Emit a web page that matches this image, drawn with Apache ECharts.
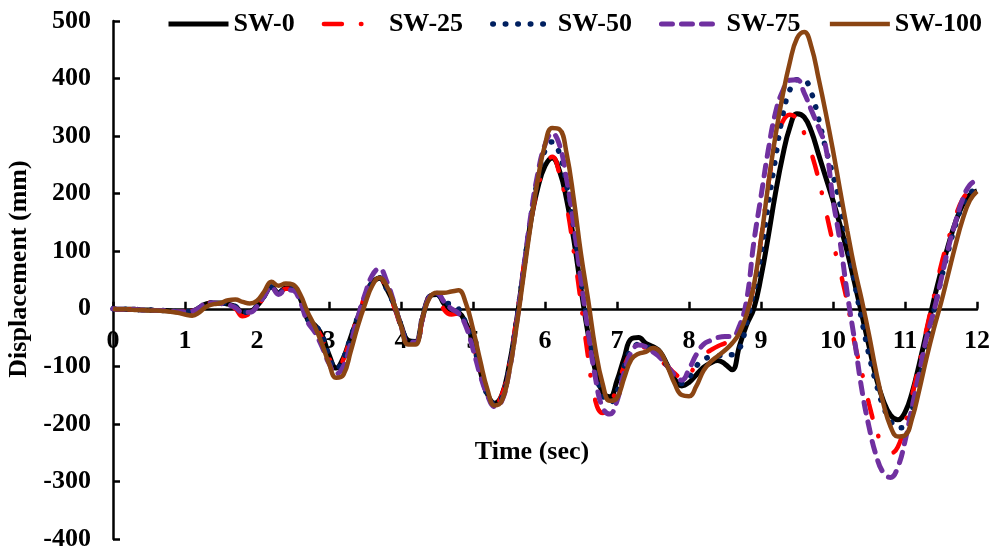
<!DOCTYPE html>
<html>
<head>
<meta charset="utf-8">
<script src="https://cdn.jsdelivr.net/npm/echarts@6/dist/echarts.min.js"></script>
<style>
  html, body { margin: 0; padding: 0; background: #fff; }
  #chart { width: 994px; height: 551px; }
</style>
</head>
<body>
<div id="chart"></div>
<script>
// time (sec), 0.1 s step
const time = [
  0.0, 0.1, 0.2, 0.3, 0.4, 0.5, 0.6, 0.7, 0.8, 0.9,
  1.0, 1.1, 1.2, 1.3, 1.4, 1.5, 1.6, 1.7, 1.8, 1.9,
  2.0, 2.1, 2.2, 2.3, 2.4, 2.5, 2.6, 2.7, 2.8, 2.9,
  3.0, 3.1, 3.2, 3.3, 3.4, 3.5, 3.6, 3.7, 3.8, 3.9,
  4.0, 4.1, 4.2, 4.3, 4.4, 4.5, 4.6, 4.7, 4.8, 4.9,
  5.0, 5.1, 5.2, 5.3, 5.4, 5.5, 5.6, 5.7, 5.8, 5.9,
  6.0, 6.1, 6.2, 6.3, 6.4, 6.5, 6.6, 6.7, 6.8, 6.9,
  7.0, 7.1, 7.2, 7.3, 7.4, 7.5, 7.6, 7.7, 7.8, 7.9,
  8.0, 8.1, 8.2, 8.3, 8.4, 8.5, 8.6, 8.7, 8.8, 8.9,
  9.0, 9.1, 9.2, 9.3, 9.4, 9.5, 9.6, 9.7, 9.8, 9.9,
  10.0, 10.1, 10.2, 10.3, 10.4, 10.5, 10.6, 10.7, 10.8, 10.9,
  11.0, 11.1, 11.2, 11.3, 11.4, 11.5, 11.6, 11.7, 11.8, 11.9,
  12.0
];

// displacement (mm)
const sw0 = [
  0, -1, -1, -1, -2, -2, -3, -3, -4, -5,
  -5, -4, 2, 9, 10, 10, 8, 4, -6, -5,
  5, 22, 38, 28, 36, 36, 18, -18, -28, -45,
  -80, -103, -85, -50, -15, 18, 45, 53, 35, 8,
  -28, -55, -57, -15, 22, 25, 8, -3, -6, -25,
  -55, -108, -148, -164, -150, -100, -25, 65, 150, 210,
  248, 262, 240, 190, 120, 35, -45, -108, -145, -153,
  -125, -85, -52, -50, -60, -66, -75, -98, -122, -134,
  -128, -115, -102, -94, -90, -96, -106, -65, -28, 0,
  55, 125, 200, 265, 315, 339, 333, 308, 268, 228,
  188, 145, 98, 45, -10, -65, -120, -160, -185, -193,
  -180, -145, -95, -40, 15, 65, 110, 150, 180, 198,
  205
];
const sw25 = [
  0, -1, -1, -1, -2, -2, -3, -3, -4, -5,
  -5, -4, 3, 11, 11, 10, 6, 0, -13, -8,
  3, 21, 37, 27, 35, 35, 16, -20, -30, -50,
  -85, -108, -88, -50, -12, 22, 47, 54, 33, 5,
  -32, -62, -64, -18, 22, 24, -2, -10, -8, -28,
  -60, -110, -150, -166, -150, -100, -20, 70, 150, 210,
  250, 264, 235, 180, 100, 10, -85, -160, -181, -168,
  -135, -100, -75, -66, -68, -80, -90, -100, -112, -120,
  -115, -95, -80, -72, -65, -60, -55, -38, -8, 40,
  120, 215, 285, 325, 337, 330, 305, 270, 225, 170,
  115, 65, 10, -60, -110, -165, -210, -240, -251, -240,
  -200, -150, -95, -35, 20, 75, 120, 160, 190, 205,
  212
];
const sw50 = [
  0, -1, -1, -1, -2, -2, -3, -3, -4, -5,
  -5, -4, 2, 9, 10, 10, 8, 4, -6, -5,
  5, 22, 38, 28, 36, 36, 18, -18, -28, -45,
  -82, -105, -86, -50, -14, 20, 46, 54, 35, 8,
  -28, -56, -58, -15, 22, 25, 10, 8, 0, -25,
  -58, -108, -150, -165, -155, -105, -25, 65, 155, 225,
  275, 290, 270, 215, 140, 50, -35, -105, -150, -163,
  -145, -100, -70, -62, -65, -72, -82, -100, -120, -130,
  -120, -100, -88, -84, -82, -80, -80, -70, -25, 30,
  95, 180, 260, 335, 380, 398, 397, 375, 330, 278,
  232, 180, 115, 45, -20, -80, -130, -170, -195, -207,
  -205, -175, -125, -65, -5, 50, 100, 145, 180, 200,
  210
];
const sw75 = [
  0, -1, -1, -1, -2, -2, -3, -3, -4, -5,
  -5, -4, 2, 10, 10, 9, 7, 2, -6, -6,
  4, 22, 38, 25, 33, 32, 12, -22, -40, -65,
  -95, -113, -100, -60, -15, 25, 58, 70, 48, 12,
  -30, -58, -58, -15, 22, 27, 12, 0, -8, -30,
  -70, -115, -150, -170, -160, -110, -30, 65, 160, 235,
  285, 305, 285, 225, 145, 50, -40, -120, -172, -183,
  -160, -110, -75, -63, -66, -75, -85, -100, -115, -124,
  -105, -80, -62, -55, -50, -48, -48, -30, 15, 115,
  195, 275, 340, 378, 397, 398, 375, 345, 315, 280,
  190, 115, 25, -55, -140, -205, -255, -285, -293, -275,
  -230, -170, -110, -50, -5, 50, 105, 150, 190, 215,
  224
];
const sw100 = [
  0, -1, -1, -2, -2, -3, -3, -4, -5, -7,
  -10, -12, -6, 4, 8, 10, 15, 16, 12, 9,
  14, 30, 47, 40, 44, 42, 25, -5, -30, -60,
  -95, -120, -115, -75, -30, 8, 40, 54, 40, 10,
  -30, -62, -62, -15, 20, 28, 28, 30, 32, 10,
  -35, -90, -140, -168, -160, -112, -35, 55, 145, 225,
  285, 314, 312, 270, 190, 95, 15, -70, -130, -160,
  -155, -120, -88, -78, -75, -68, -75, -100, -130, -150,
  -152, -135, -108, -92, -82, -72, -60, -42, -10, 40,
  120, 215, 300, 370, 428, 470, 481, 455, 400, 340,
  275, 205, 135, 70, 15, -45, -110, -165, -205, -222,
  -220, -190, -140, -85, -35, 10, 60, 110, 155, 188,
  204
];

const names = ['SW-0', 'SW-25', 'SW-50', 'SW-75', 'SW-100'];
const values = [sw0, sw25, sw50, sw75, sw100];
const colors = ['#000000', '#ff0000', '#002060', '#7030a0', '#8b4513'];
const lineStyles = [
  { width: 5, type: 'solid' },
  { width: 4.5, type: [18, 19, 0.5, 25], cap: 'round' },
  { width: 5.5, type: [0.5, 12], cap: 'round' },
  { width: 5, type: [11, 9], cap: 'round' },
  { width: 4.5, type: 'solid' },
];
const xTicks = [0, 12, 1];
const yTicks = [-400, 500, 100];

const font = "'Liberation Serif', 'Times New Roman', serif";
const boldText = { fontFamily: font, fontWeight: 'bold', color: '#000' };
const axisLine = { color: '#000', width: 2.5 };

const chart = echarts.init(document.getElementById('chart'));

chart.setOption({
  animation: false,
  backgroundColor: '#ffffff',
  grid: [
    { left: 113, right: 17, top: 21, bottom: 12, outerBoundsMode: 'none' },
    // label strip that ends at the zero line
    { left: 113, right: 17, top: 21, height: 288, outerBoundsMode: 'none' },
  ],
  legend: {
    left: 161,
    top: 6,
    itemWidth: 60,
    itemHeight: 14,
    itemGap: 27,
    itemStyle: { opacity: 0 },
    data: names.map((name, i) => ({
      name,
      itemStyle: { opacity: 0 },
      lineStyle: { width: lineStyles[i].width },
    })),
    textStyle: Object.assign({ fontSize: 26 }, boldText),
  },
  xAxis: [
    {
      type: 'value',
      min: xTicks[0],
      max: xTicks[1],
      interval: xTicks[2],
      axisLine: { onZero: true, lineStyle: axisLine },
      axisTick: { inside: true, length: 7, lineStyle: axisLine },
      axisLabel: { show: false },
      splitLine: { show: false },
    },
    {
      type: 'value',
      gridIndex: 1,
      min: xTicks[0],
      max: xTicks[1],
      interval: xTicks[2],
      name: 'Time (sec)',
      nameLocation: 'middle',
      nameGap: 130,
      nameTextStyle: Object.assign({ fontSize: 26, padding: [0, 26, 0, 0] }, boldText),
      axisLine: { show: false, onZero: false },
      axisTick: { show: false },
      axisLabel: Object.assign({ margin: 19, fontSize: 26 }, boldText),
      splitLine: { show: false },
    },
  ],
  yAxis: [
    {
      type: 'value',
      min: yTicks[0],
      max: yTicks[1],
      interval: yTicks[2],
      name: 'Displacement (mm)',
      nameLocation: 'middle',
      nameGap: 80,
      nameTextStyle: Object.assign({ fontSize: 26, padding: [0, 0, 0, 22] }, boldText),
      axisLine: { show: true, onZero: false, lineStyle: axisLine },
      axisTick: { show: true, inside: true, length: 7, lineStyle: axisLine },
      axisLabel: Object.assign({ margin: 22, fontSize: 26 }, boldText),
      splitLine: { show: false },
    },
    {
      type: 'value',
      gridIndex: 1,
      show: false,
    },
  ],
  series: names.map((name, i) => ({
    name,
    type: 'line',
    data: time.map((t, j) => [t, values[i][j]]),
    smooth: 0.45,
    symbol: 'none',
    lineStyle: Object.assign({ color: colors[i] }, lineStyles[i]),
    itemStyle: { color: colors[i] },
  })),
});
</script>
</body>
</html>
